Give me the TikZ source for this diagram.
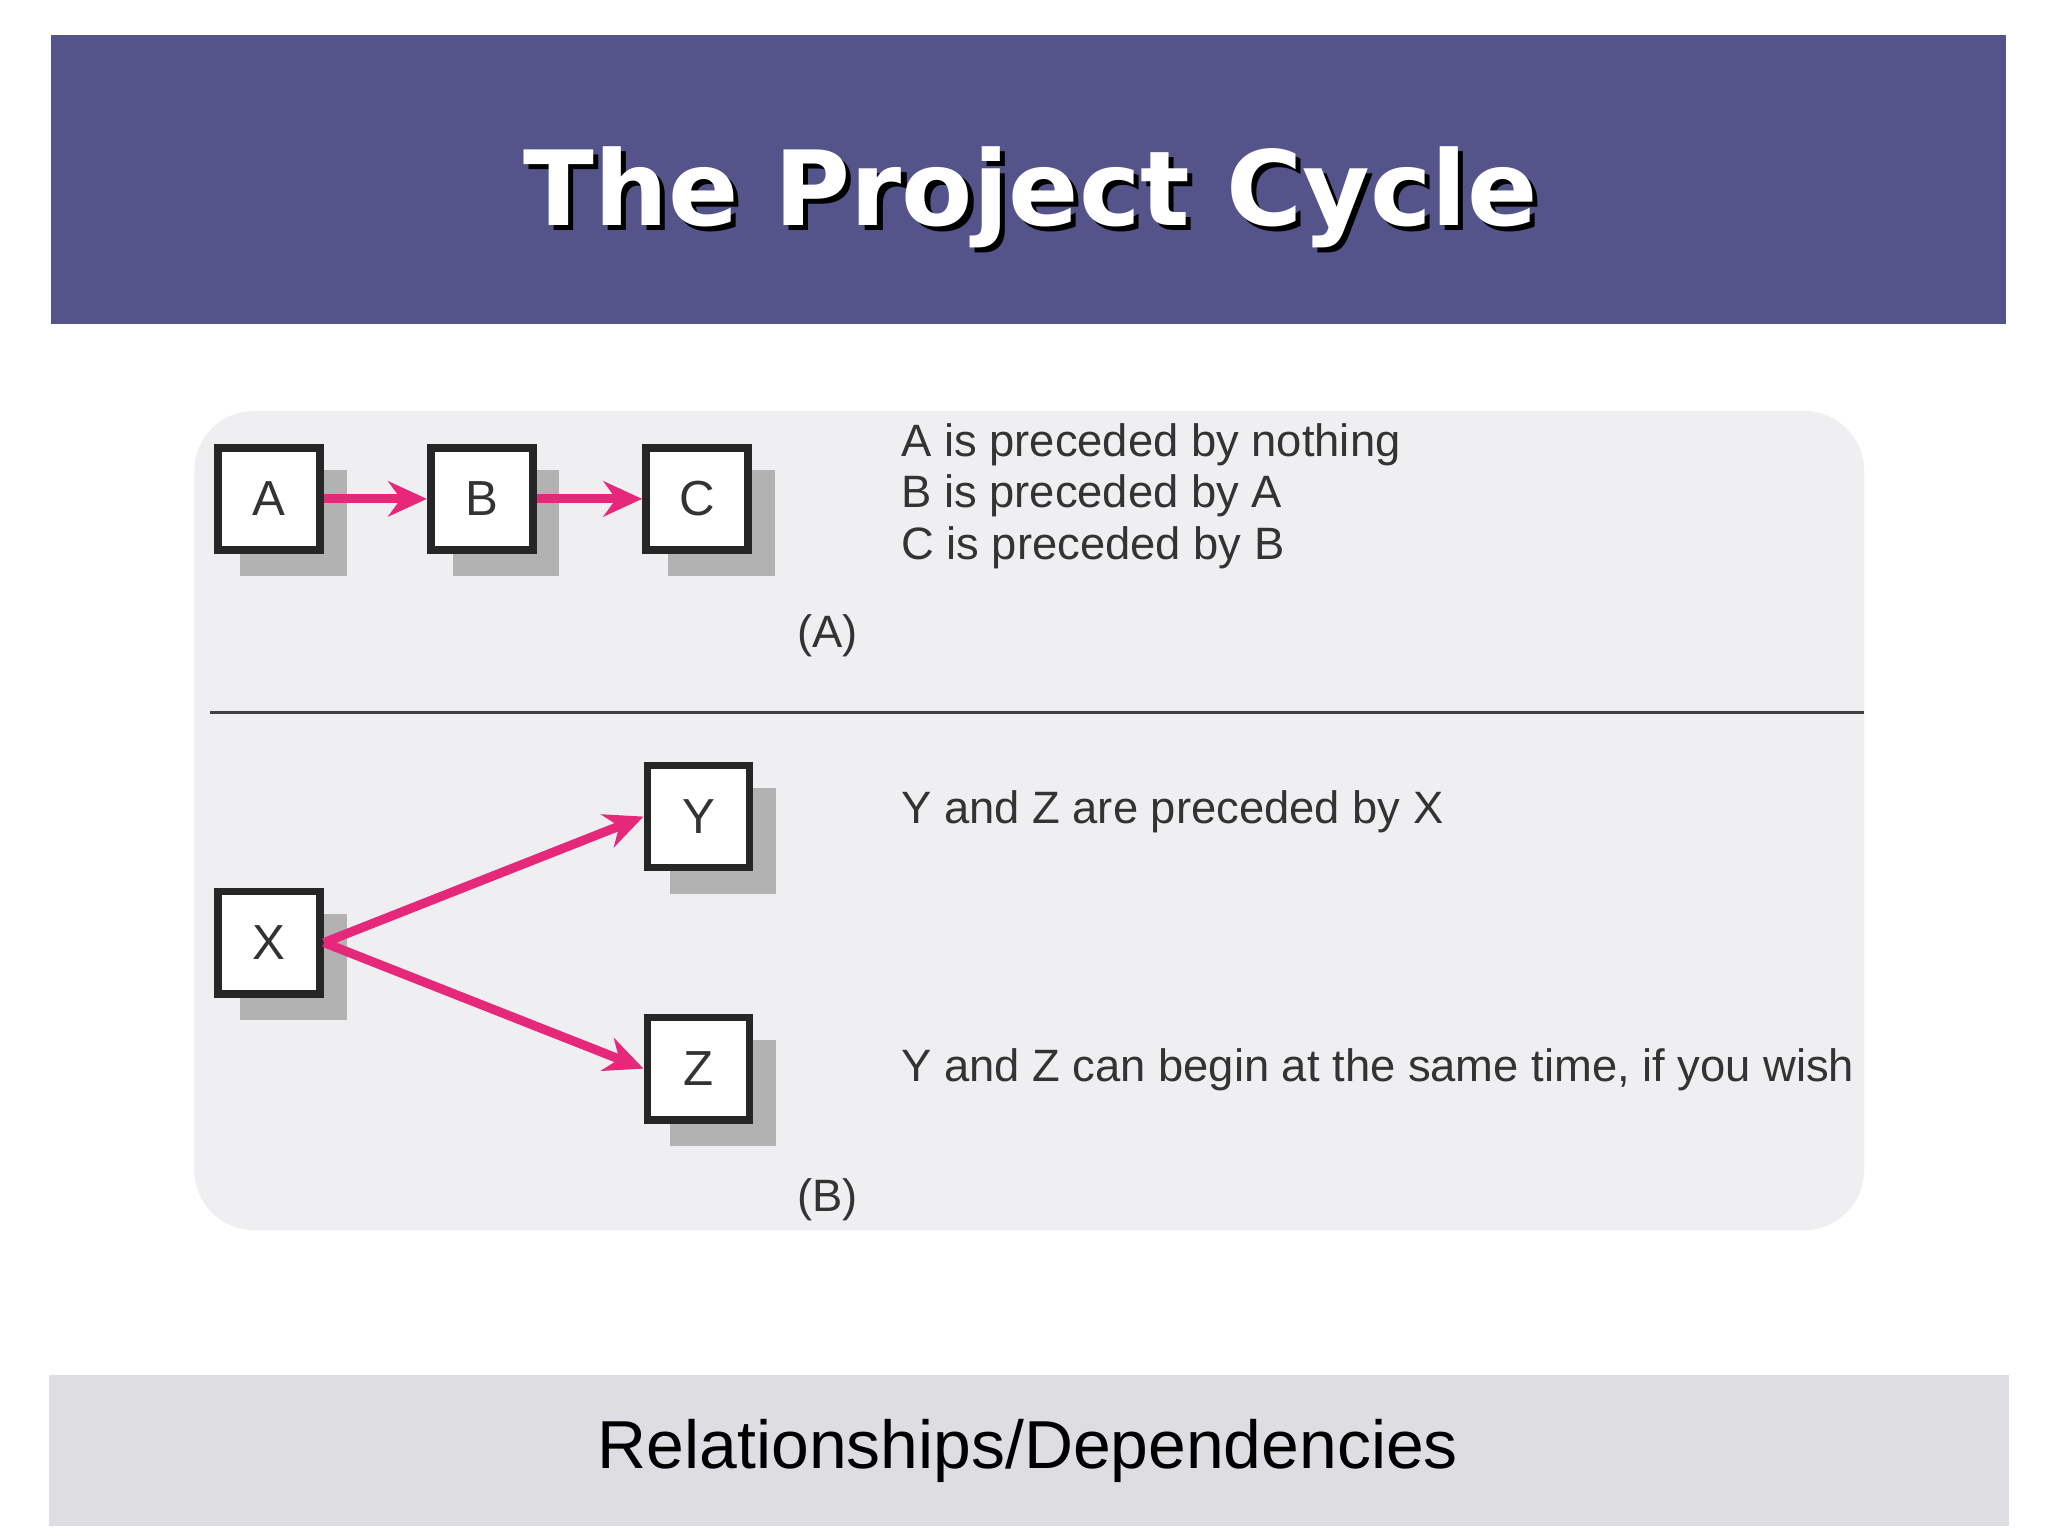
\documentclass[tikz,border=0pt]{standalone}
\usepackage{fontspec}
\setmainfont{Liberation Sans}
\newfontfamily\titlefont{DejaVu Sans}
\usetikzlibrary{arrows.meta}
\definecolor{band}{HTML}{55548A}
\definecolor{panel}{HTML}{EFEEF1}
\definecolor{foot}{HTML}{DEDDE1}
\definecolor{mag}{HTML}{E5287A}
\definecolor{txt}{HTML}{333333}
\tikzset{
 bx/.style={draw=black!85,line width=2.2pt,fill=white,minimum size=1.02cm,inner sep=0pt,font=\fontsize{14}{17}\selectfont,text=txt},
 shd/.style={fill=black!30},
 arr/.style={draw=mag,line width=2.6pt,-{Stealth[length=11pt,width=10pt]}},
 lbl/.style={anchor=west,font=\fontsize{12.9}{15}\selectfont,text=txt,inner sep=0pt},
}
\begin{document}
\begin{tikzpicture}[x=0.013128cm,y=-0.013128cm]
\useasboundingbox (0,0) rectangle (1560,1170);
\fill[white] (0,0) rectangle (1560,1170);
\fill[band] (39,27) rectangle (1528,247);
\node[text=black,font=\titlefont\bfseries\fontsize{29.5}{34}\selectfont] at (789,154) {The Project Cycle};
\node (title) [text=white,font=\titlefont\bfseries\fontsize{29.5}{34}\selectfont] at (785,150) {The Project Cycle};
\fill[panel,rounded corners=0.6cm] (148,313) rectangle (1420,937);
\draw[black!75,line width=0.9pt] (160,543) -- (1420,543);
\foreach \x/\y in {205/380,367/380,531/380,532/622,205/718,532/814}
  \fill[shd] (\x-22,\y-22) rectangle (\x+59,\y+59);
\node[bx] (A) at (205,380) {A};
\node[bx] (B) at (367,380) {B};
\node[bx] (C) at (531,380) {C};
\node[bx] (Y) at (532,622) {Y};
\node[bx] (X) at (205,718) {X};
\node[bx] (Z) at (532,814) {Z};
\draw[arr] (A) -- (B);
\draw[arr] (B) -- (C);
\draw[arr] (X.east) -- (Y.west);
\draw[arr] (X.east) -- (Z.west);
\node[lbl] (t1) at (686,339) {A is preceded by nothing};
\node[lbl] (t2) at (686,378) {B is preceded by A};
\node[lbl] (t3) at (686,417) {C is preceded by B};
\node[lbl] (la) at (607,484) {(A)};
\node[lbl] (t4) at (686,618) {Y and Z are preceded by X};
\node[lbl] (t5) at (686,815) {Y and Z can begin at the same time, if you wish};
\node[lbl] (lb) at (607,914) {(B)};
\fill[foot] (37,1047) rectangle (1530,1162);
\node (ft) [font=\fontsize{19.3}{23}\selectfont,text=black] at (783,1105) {Relationships/Dependencies};
\end{tikzpicture}
\end{document}
